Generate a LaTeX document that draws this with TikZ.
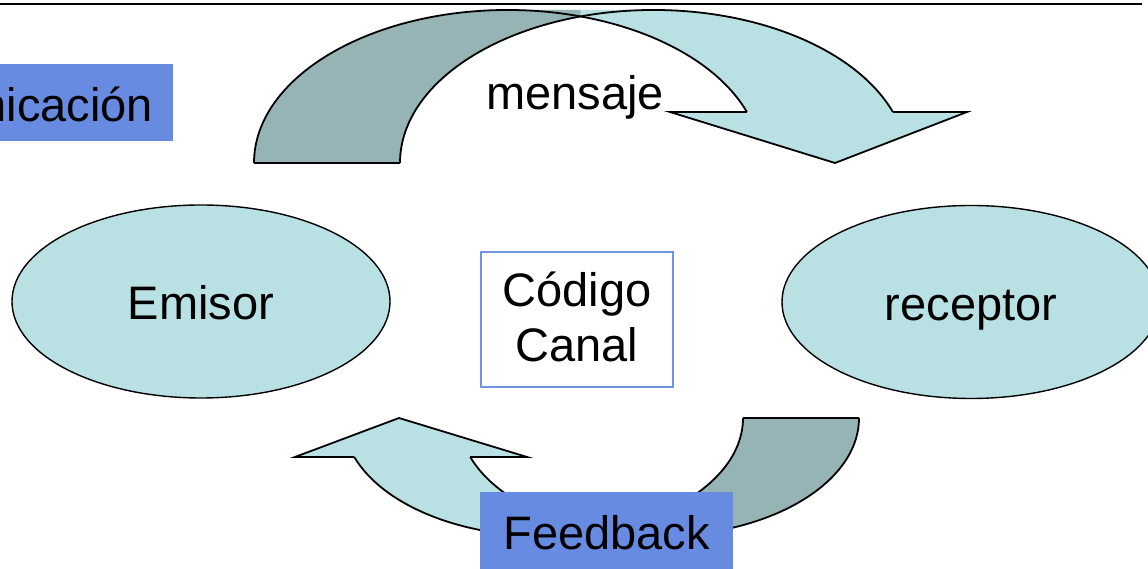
\documentclass[tikz,border=0pt]{standalone}
\usepackage{fontspec}
\setmainfont{Liberation Sans}
\usetikzlibrary{shapes.geometric}
\definecolor{lightband}{RGB}{185,224,227}
\definecolor{darkband}{RGB}{150,180,182}
\definecolor{titleblue}{RGB}{104,139,226}
\definecolor{codeborder}{RGB}{110,148,228}
\begin{document}
\begin{tikzpicture}[x=1pt,y=1pt,
  bigtext/.style={font=\fontsize{47}{55}\selectfont},
  outline/.style={draw=black,line width=1.8pt,line join=miter},
  ovalnode/.style={ellipse,draw=black,line width=1.4pt,fill=lightband,inner sep=0pt,
    minimum width=378pt,minimum height=193pt,bigtext,text height=37pt,text depth=0pt},
  bluebox/.style={rectangle,fill=titleblue,inner sep=0pt,bigtext,text height=39pt,text depth=0pt},
  codebox/.style={rectangle,draw=codeborder,line width=1.3pt,inner sep=0pt,bigtext,align=center,
    minimum width=192pt,minimum height=135pt,text height=85pt,text depth=0pt}]
\useasboundingbox (0,0) rectangle (1148,569);
\clip (0,0) rectangle (1148,569);

% top rule
\draw[line width=2.5pt] (0,565) -- (1142,565);

% title box (cut off at the left edge, as in the reference)
\node[bluebox,minimum width=212.4pt,minimum height=77pt] (title) at (66.8,466.5) {nicación};

% ---- top curved arrow (mensaje) ----
\fill[lightband] (670,457) -- (746.9,457)
  arc[start angle=19.47,end angle=90,x radius=253.7pt,y radius=153pt]
  -- (653.7,559)
  arc[start angle=90,end angle=19.47,x radius=253.7pt,y radius=153pt]
  -- (967,457) -- (835,406) -- cycle;
\fill[darkband] (254,406)
  arc[start angle=180,end angle=90,x radius=253.7pt,y radius=153pt]
  -- (580.7,559) -- (580.7,552.5)
  arc[start angle=106.72,end angle=180,x radius=253.7pt,y radius=153pt]
  -- cycle;
\draw[outline] (254,406) arc[start angle=180,end angle=19.47,x radius=253.7pt,y radius=153pt];
\draw[outline] (400,406) arc[start angle=180,end angle=19.47,x radius=253.7pt,y radius=153pt];
\draw[outline] (254,406) -- (400,406);
\draw[outline] (746.9,457) -- (670,457) -- (835,406) -- (967,457) -- (892.9,457);

% ---- bottom curved arrow (feedback) ----
\fill[lightband] (527,112) -- (470.2,112)
  arc[start angle=-160.7,end angle=-90,x radius=200pt,y radius=118pt]
  -- (543,33)
  arc[start angle=-90,end angle=-160.7,x radius=200pt,y radius=118pt]
  -- (295,112) -- (399,151) -- cycle;
\fill[darkband] (743,151) -- (859,151)
  arc[start angle=0,end angle=-90,x radius=200pt,y radius=118pt]
  -- (601,33) -- (601,38.1)
  arc[start angle=-73.14,end angle=0,x radius=200pt,y radius=118pt]
  -- cycle;
\draw[outline] (859,151) arc[start angle=0,end angle=-160.7,x radius=200pt,y radius=118pt];
\draw[outline] (743,151) arc[start angle=0,end angle=-160.7,x radius=200pt,y radius=118pt];
\draw[outline] (743,151) -- (859,151);
\draw[outline] (470.2,112) -- (527,112) -- (399,151) -- (295,112) -- (354.2,112);

% ---- nodes ----
\node[ovalnode] (emisor) at (201,267.5) {Emisor};
\node[ovalnode] (receptor) at (971,267) {receptor};
\node[codebox] (codigo) at (577,249.5) {Código\\Canal};
\node[bigtext,anchor=base,inner sep=0pt] (mensaje) at (575,459) {mensaje};
\node[bluebox,minimum width=253pt,minimum height=77pt] (feedback) at (606.5,38.5) {Feedback};
\end{tikzpicture}
\end{document}
